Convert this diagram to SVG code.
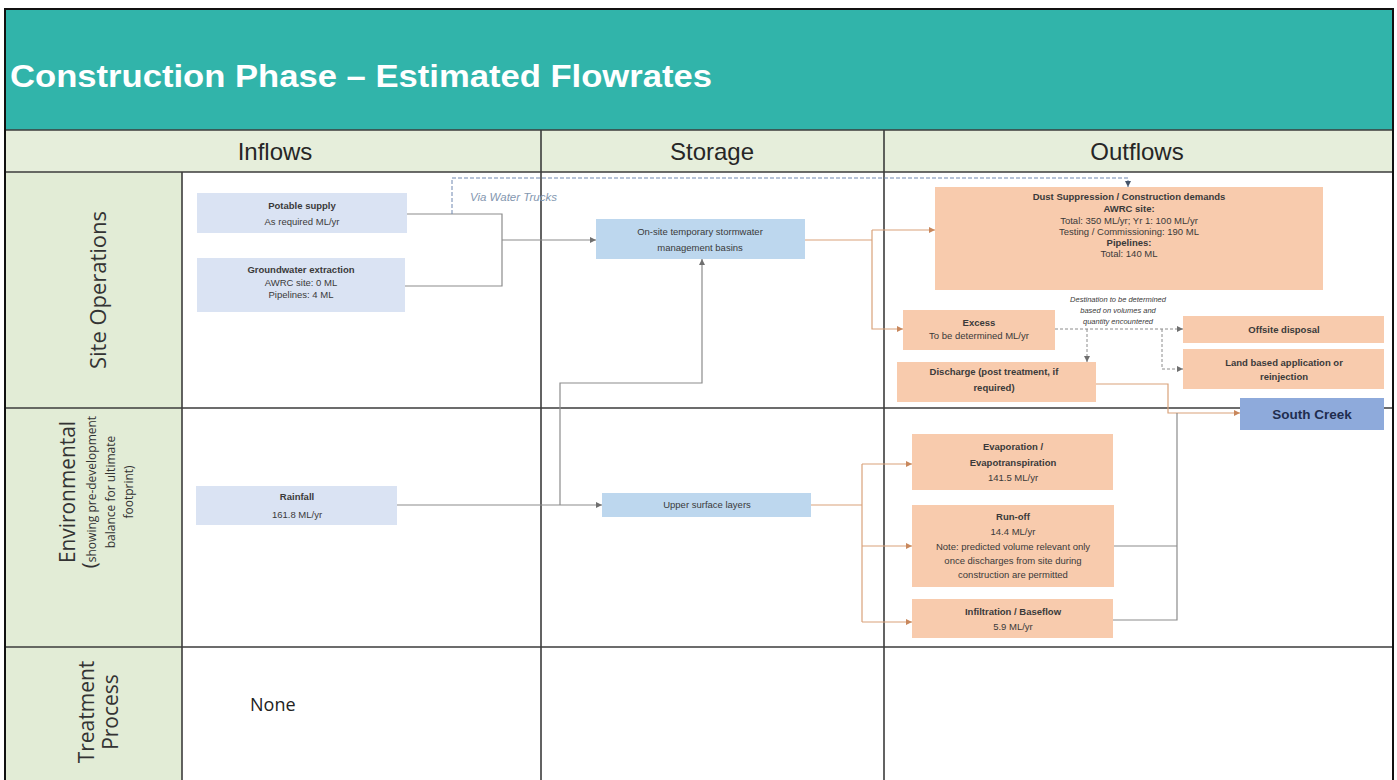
<svg xmlns="http://www.w3.org/2000/svg" width="1397" height="780" viewBox="0 0 1397 780">
<style>
.t{font-family:"Liberation Sans",Arial,sans-serif;font-size:9.5px;fill:#3a3a3a;text-anchor:middle}
.b{font-weight:bold}
.i{font-style:italic;font-size:7.5px}
.sc{font-size:13.5px;fill:#1f2d4f}
.hd{font-family:"Liberation Sans",Arial,sans-serif;font-size:24px;fill:#262626;text-anchor:middle}
.rl{font-family:"Open Sans","Liberation Sans",sans-serif;fill:#333;text-anchor:middle}
.grid{stroke:#3d3d3d;stroke-width:1.6;fill:none}
.nb{fill:#dae3f3}
.ns{fill:#bdd7ee}
.np{fill:#f8cbad}
.cg{fill:none;stroke:#8c8c8c;stroke-width:1.2}
.co{fill:none;stroke:#d9a27a;stroke-width:1.2}
.cd{fill:none;stroke:#8c8c8c;stroke-width:1;stroke-dasharray:3 2}
.cb{fill:none;stroke:#6f87b0;stroke-width:1;stroke-dasharray:4 2}
</style>
<defs>
<marker id="ag" viewBox="0 0 6 6" refX="6" refY="3" markerWidth="6" markerHeight="6" orient="auto" markerUnits="userSpaceOnUse"><path d="M0,0 L6,3 L0,6 z" fill="#6f6f6f"/></marker>
<marker id="ao" viewBox="0 0 6 6" refX="6" refY="3" markerWidth="6" markerHeight="6" orient="auto" markerUnits="userSpaceOnUse"><path d="M0,0 L6,3 L0,6 z" fill="#c8875c"/></marker>
<marker id="ab" viewBox="0 0 6 6" refX="6" refY="3" markerWidth="6" markerHeight="6" orient="auto" markerUnits="userSpaceOnUse"><path d="M0,0 L6,3 L0,6 z" fill="#44546a"/></marker>
</defs>
<rect x="0" y="0" width="1397" height="780" fill="#ffffff"/>
<!-- header -->
<rect x="5" y="9" width="1388" height="121" fill="#31b4aa"/>
<text x="10" y="87" font-family="'Liberation Sans',Arial,sans-serif" font-size="32" font-weight="bold" fill="#ffffff" textLength="702" lengthAdjust="spacingAndGlyphs">Construction Phase – Estimated Flowrates</text>
<!-- column header row and row label column -->
<rect x="5" y="130" width="1388" height="42" fill="#e6eedb"/>
<rect x="5" y="172" width="177" height="608" fill="#e2ecd6"/>
<text class="hd" x="275" y="160">Inflows</text>
<text class="hd" x="712" y="160">Storage</text>
<text class="hd" x="1137" y="160">Outflows</text>
<!-- grid -->
<path class="grid" d="M5,130 H1393 M5,172 H1393 M5,408 H1393 M5,647 H1393 M182,172 V780 M541,130 V780 M884,130 V780"/>
<rect x="5" y="9" width="1388" height="775" fill="none" stroke="#111" stroke-width="2"/>
<!-- row labels -->
<g id="row-site-operations"><text class="rl" font-size="21" transform="translate(106,290) rotate(-90)" textLength="158" lengthAdjust="spacingAndGlyphs">Site Operations</text></g>
<g id="row-environmental">
<text class="rl" font-size="21" transform="translate(75,492) rotate(-90)" textLength="142" lengthAdjust="spacingAndGlyphs">Environmental</text>
<text class="rl" font-size="12" transform="translate(96,492) rotate(-90)"><tspan font-size="20">(</tspan>showing pre-development</text>
<text class="rl" font-size="12" transform="translate(115,492) rotate(-90)">balance for ultimate</text>
<text class="rl" font-size="12" transform="translate(133,492) rotate(-90)">footprint)</text>
</g>
<g id="row-treatment">
<text class="rl" font-size="21" transform="translate(94,712) rotate(-90)">Treatment</text>
<text class="rl" font-size="21" transform="translate(118,712) rotate(-90)">Process</text>
</g>
<!-- connectors -->
<g id="connectors">
<path class="cg" d="M407,214 H502 V286 H405"/>
<path class="cg" d="M502,240 H596" marker-end="url(#ag)"/>
<path class="cb" d="M452,214 V178 H1128 V187" marker-end="url(#ab)"/>
<text x="470" y="201" font-family="'Liberation Sans',Arial,sans-serif" font-size="11.5" font-style="italic" fill="#8497b0">Via Water Trucks</text>
<path class="co" d="M805,240 H872"/>
<path class="co" d="M872,230 H935" marker-end="url(#ao)"/>
<path class="co" d="M872,230 V329 H903" marker-end="url(#ao)"/>
<path class="cd" d="M1055,329 H1183" marker-end="url(#ag)"/>
<path class="cd" d="M1087,329 V362" marker-end="url(#ag)"/>
<path class="cd" d="M1162,329 V369 H1183" marker-end="url(#ag)"/>
<path class="co" d="M1096,384 H1168 V413 H1240" marker-end="url(#ao)"/>
<path class="cg" d="M1113,620 H1177 V413"/>
<path class="cg" d="M1114,546 H1177"/>
<path class="cg" d="M397,505 H602" marker-end="url(#ag)"/>
<path class="cg" d="M560,505 V383 H702 V259" marker-end="url(#ag)"/>
<path class="co" d="M811,505 H862"/>
<path class="co" d="M862,464 V622"/>
<path class="co" d="M862,464 H912" marker-end="url(#ao)"/>
<path class="co" d="M862,546 H912" marker-end="url(#ao)"/>
<path class="co" d="M862,622 H912" marker-end="url(#ao)"/>
</g>
<!-- nodes -->
<g id="potable-supply"><rect class="nb" x="197" y="193" width="210" height="40"/>
<text class="t b" x="302" y="209">Potable supply</text><text class="t" x="302" y="225">As required ML/yr</text></g>
<g id="groundwater-extraction"><rect class="nb" x="197" y="258" width="208" height="54"/>
<text class="t b" x="301" y="273">Groundwater extraction</text><text class="t" x="301" y="286">AWRC site: 0 ML</text><text class="t" x="301" y="298">Pipelines: 4 ML</text></g>
<g id="stormwater-basins"><rect class="ns" x="596" y="219" width="209" height="40"/>
<text class="t" x="700" y="235">On-site temporary stormwater</text><text class="t" x="700" y="251">management basins</text></g>
<g id="dust-suppression"><rect class="np" x="935" y="187" width="388" height="103"/>
<text class="t b" x="1129" y="200">Dust Suppression / Construction demands</text>
<text class="t b" x="1129" y="212">AWRC site:</text>
<text class="t" x="1129" y="224">Total: 350 ML/yr; Yr 1: 100 ML/yr</text>
<text class="t" x="1129" y="235">Testing / Commissioning: 190 ML</text>
<text class="t b" x="1129" y="246">Pipelines:</text>
<text class="t" x="1129" y="257">Total: 140 ML</text></g>
<g id="destination-note">
<text class="t i" x="1118" y="302">Destination to be determined</text>
<text class="t i" x="1118" y="313">based on volumes and</text>
<text class="t i" x="1118" y="324">quantity encountered</text></g>
<g id="excess"><rect class="np" x="903" y="310" width="152" height="40"/>
<text class="t b" x="979" y="326">Excess</text><text class="t" x="979" y="339">To be determined ML/yr</text></g>
<g id="offsite-disposal"><rect class="np" x="1183" y="316" width="201" height="27"/>
<text class="t b" x="1284" y="333">Offsite disposal</text></g>
<g id="land-based"><rect class="np" x="1183" y="349" width="201" height="40"/>
<text class="t b" x="1284" y="366">Land based application or</text><text class="t b" x="1284" y="380">reinjection</text></g>
<g id="discharge"><rect class="np" x="897" y="362" width="199" height="40"/>
<text class="t b" x="994" y="375">Discharge (post treatment, if</text><text class="t b" x="994" y="391">required)</text></g>
<g id="south-creek"><rect x="1240" y="398" width="144" height="32" fill="#8eaadb"/>
<text class="t b sc" x="1312" y="419">South Creek</text></g>
<g id="rainfall"><rect class="nb" x="196" y="486" width="201" height="39"/>
<text class="t b" x="297" y="500">Rainfall</text><text class="t" x="297" y="518">161.8 ML/yr</text></g>
<g id="upper-surface-layers"><rect class="ns" x="602" y="493" width="209" height="24"/>
<text class="t" x="707" y="508">Upper surface layers</text></g>
<g id="evaporation"><rect class="np" x="912" y="434" width="201" height="56"/>
<text class="t b" x="1013" y="450">Evaporation  /</text><text class="t b" x="1013" y="466">Evapotranspiration</text><text class="t" x="1013" y="481">141.5 ML/yr</text></g>
<g id="run-off"><rect class="np" x="912" y="505" width="202" height="82"/>
<text class="t b" x="1013" y="520">Run-off</text><text class="t" x="1013" y="535">14.4 ML/yr</text>
<text class="t" x="1013" y="550">Note: predicted volume relevant only</text>
<text class="t" x="1013" y="564">once discharges from site during</text>
<text class="t" x="1013" y="578">construction are permitted</text></g>
<g id="infiltration"><rect class="np" x="912" y="599" width="201" height="39"/>
<text class="t b" x="1013" y="615">Infiltration / Baseflow</text><text class="t" x="1013" y="630">5.9 ML/yr</text></g>
<g id="none"><text x="250" y="711" font-family="'Open Sans','Liberation Sans',sans-serif" font-size="18" fill="#222">None</text></g>
</svg>
